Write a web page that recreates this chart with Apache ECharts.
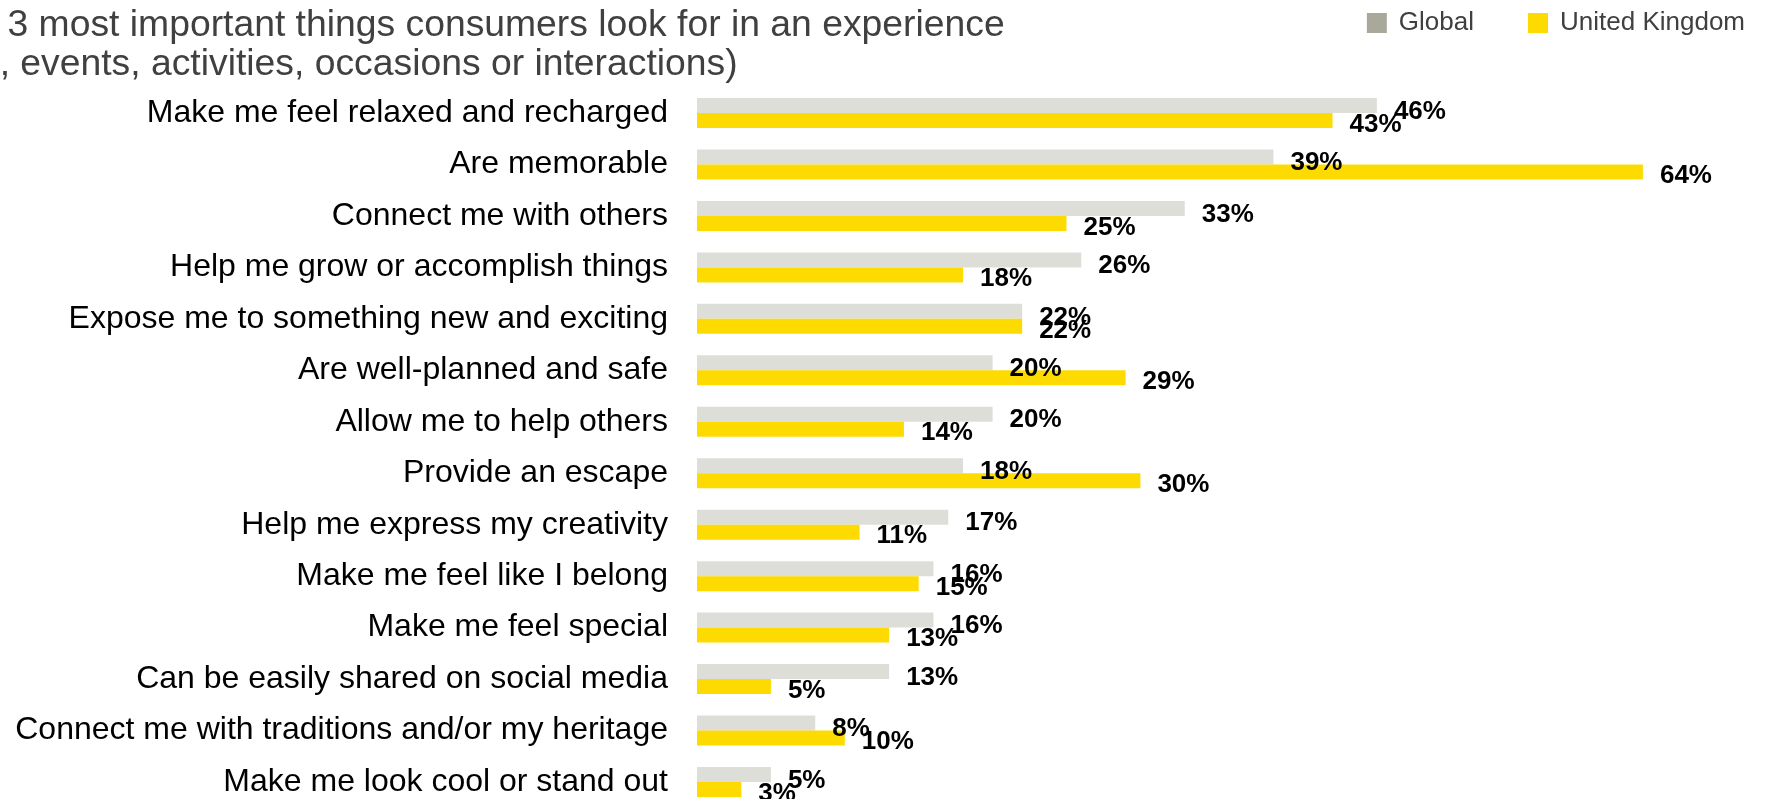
<!DOCTYPE html>
<html>
<head>
<meta charset="utf-8">
<title>What consumers look for in an experience</title>
<script src="https://cdn.jsdelivr.net/npm/echarts@6/dist/echarts.min.js"></script>
<style>
  html, body { margin: 0; padding: 0; background: #ffffff; overflow: hidden; }
  /* the last row runs slightly past the bottom edge of the view */
  #chart { width: 1769px; height: 830px; }
</style>
</head>
<body>
<div id="chart"></div>
<script>
// Survey answers, top to bottom
const categories = [
  'Make me feel relaxed and recharged',
  'Are memorable',
  'Connect me with others',
  'Help me grow or accomplish things',
  'Expose me to something new and exciting',
  'Are well-planned and safe',
  'Allow me to help others',
  'Provide an escape',
  'Help me express my creativity',
  'Make me feel like I belong',
  'Make me feel special',
  'Can be easily shared on social media',
  'Connect me with traditions and/or my heritage',
  'Make me look cool or stand out'
];

// Share of respondents (%)
const globalValues = [46, 39, 33, 26, 22, 20, 20, 18, 17, 16, 16, 13, 8, 5];
const ukValues     = [43, 64, 25, 18, 22, 29, 14, 30, 11, 15, 13, 5, 10, 3];

const seriesNames = ['Global', 'United Kingdom'];

const titleLines = [
  'Top 3 most important things consumers look for in an experience',
  '(e.g., events, activities, occasions or interactions)'
];

const FONT = '"Liberation Sans", Arial, Helvetica, sans-serif';
const GREY_BAR = '#DEDED9';
const GREY_KEY = '#A9A99B';
const YELLOW = '#FDDB00';

const chart = echarts.init(document.getElementById('chart'), null, { renderer: 'canvas' });

const labelStyle = {
  show: true,
  position: 'right',
  distance: 17,
  formatter: '{c}%',
  fontFamily: FONT,
  fontSize: 26,
  fontWeight: 'bold',
  color: '#000000'
};

chart.setOption({
  animation: false,
  backgroundColor: '#ffffff',
  graphic: [
    {
      type: 'text',
      left: -63,
      top: 7,
      style: {
        text: titleLines[0],
        font: '37.3px ' + FONT,
        fill: '#404040'
      }
    },
    {
      type: 'text',
      left: -75,
      top: 46,
      style: {
        text: titleLines[1],
        font: '37.3px ' + FONT,
        fill: '#404040'
      }
    }
  ],
  legend: {
    data: [
      { name: seriesNames[0], itemStyle: { color: GREY_KEY } },
      { name: seriesNames[1], itemStyle: { color: YELLOW } }
    ],
    right: 19,
    top: 5,
    icon: 'rect',
    itemWidth: 20,
    itemHeight: 20,
    itemGap: 54,
    textStyle: {
      fontFamily: FONT,
      fontSize: 26,
      color: '#404040',
      padding: [0, 0, 0, 7]
    }
  },
  grid: {
    left: 697,
    top: 87.3,
    width: 1034.6,
    height: 720.4,
    containLabel: false
  },
  xAxis: {
    type: 'value',
    min: 0,
    max: 70,
    show: false
  },
  yAxis: {
    type: 'category',
    data: categories,
    inverse: true,
    axisLine: { show: false },
    axisTick: { show: false },
    splitLine: { show: false },
    axisLabel: {
      margin: 29,
      fontFamily: FONT,
      fontSize: 32,
      color: '#000000',
      padding: [4, 0, 0, 0]
    }
  },
  series: [
    {
      name: seriesNames[0],
      type: 'bar',
      data: globalValues,
      barGap: '0%',
      barCategoryGap: '41.7%',
      itemStyle: { color: GREY_BAR },
      label: Object.assign({}, labelStyle, { offset: [0, 6] })
    },
    {
      name: seriesNames[1],
      type: 'bar',
      data: ukValues,
      barGap: '0%',
      barCategoryGap: '41.7%',
      itemStyle: { color: YELLOW },
      label: Object.assign({}, labelStyle, { offset: [0, 4] })
    }
  ]
});
</script>
</body>
</html>
